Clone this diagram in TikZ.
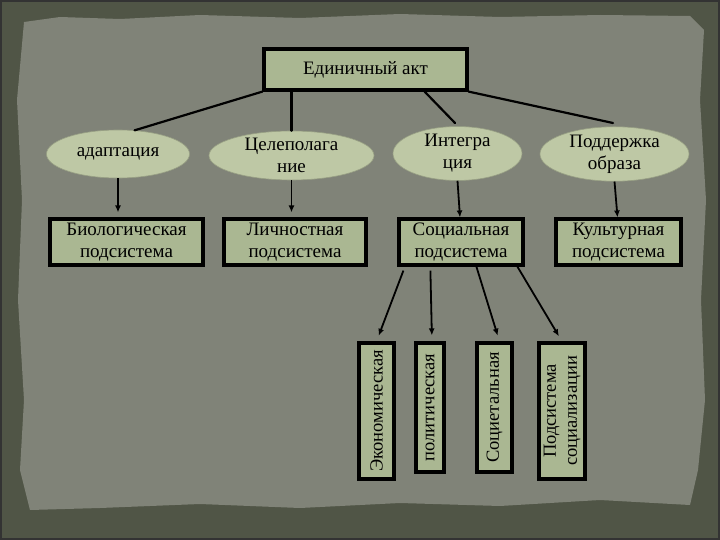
\documentclass[tikz,border=0pt]{standalone}
\usepackage{fontspec}
\setmainfont{Liberation Serif}
\usetikzlibrary{arrows.meta,calc,shapes.geometric}

\definecolor{frame}{RGB}{80,85,70}
\definecolor{paper}{RGB}{128,131,120}
\definecolor{sage}{RGB}{170,183,146}
\definecolor{oval}{RGB}{190,200,165}

\begin{document}
\begin{tikzpicture}[x=1pt, y=-1pt,
    box/.style={rectangle, draw=black, line width=3.2pt, fill=sage,
        align=center, inner sep=1pt, font=\fontsize{19}{22}\selectfont},
    oval/.style={ellipse, draw=oval!80!black, line width=0.6pt, fill=oval,
        align=center, inner sep=0pt, font=\fontsize{19}{22}\selectfont},
    vbox/.style={box, rotate=90, font=\fontsize{18.5}{21}\selectfont},
    link/.style={line width=2.2pt, line cap=round},
    arrow/.style={line width=1.8pt, -{Latex[length=7pt,width=6pt]}}
]
    % background
    \useasboundingbox (0,0) rectangle (720,540);
    \fill[frame] (0,0) rectangle (720,540);
    \fill[paper] (24,22) -- (60,17) -- (120,19) -- (200,15) -- (300,18)
        -- (400,14) -- (500,17) -- (600,15) -- (690,16) -- (704,30)
        -- (700,100) -- (706,200) -- (701,300) -- (705,400) -- (698,470)
        -- (690,505) -- (600,500) -- (500,506) -- (400,503) -- (300,508)
        -- (200,504) -- (100,508) -- (30,510) -- (20,470) -- (24,400)
        -- (18,300) -- (22,200) -- (17,100) -- cycle;
    \draw[black!80, line width=2pt] (1,1) rectangle (719,539);

    % top
    \node[box, minimum width=203pt, minimum height=41pt] (act) at (365.5,69.5) {Единичный акт};

    % functions
    \node[oval, minimum width=143pt, minimum height=48pt] (adapt) at (118,154) {адаптация};
    \node[oval, minimum width=165pt, minimum height=45pt] (goal) at (291.5,155.5) {Целеполага\\ние};
    \node[oval, minimum width=129pt, minimum height=49pt] (integ) at (457.5,153.5) {Интегра\\ция};
    \node[oval, minimum width=149pt, minimum height=47pt] (support) at (614.5,154) {Поддержка\\образа};

    % subsystems
    \node[box, minimum width=153pt, minimum height=46pt] (bio) at (126.5,242) {Биологическая\\подсистема};
    \node[box, minimum width=142pt, minimum height=46pt] (pers) at (295,242) {Личностная\\подсистема};
    \node[box, minimum width=124pt, minimum height=46pt] (social) at (461,242) {Социальная\\подсистема};
    \node[box, minimum width=125pt, minimum height=46pt] (cult) at (618.5,242) {Культурная\\подсистема};

    % parts of the social subsystem
    \node[vbox, minimum width=136pt, minimum height=35pt] (econ) at (376.5,411) {Экономическая};
    \node[vbox, minimum width=129pt, minimum height=28pt] (polit) at (430,407.5) {политическая};
    \node[vbox, minimum width=129pt, minimum height=35pt] (socie) at (494.5,407.5) {Социетальная};
    \node[vbox, minimum width=136pt, minimum height=46pt] (socz) at (562,411) {Подсистема\\социализации};

    \coordinate (e3) at (455,123);
    \coordinate (e4) at (613,123);

    \draw[link] (act.south west) -- (adapt.55);
    \draw[link] (goal.north |- act.south) -- (goal.north);
    \draw[link] ($(act.south east)+(-44,0)$) -- (e3);
    \draw[link] (act.south east) -- (e4);

    \draw[arrow, shorten >=5pt] (adapt.south) -- (adapt.south |- bio.north);
    \draw[arrow, shorten >=5pt] (goal.south) -- (goal.south |- pers.north);
    \draw[arrow] (integ.south) -- ($(social.north)+(-1,0)$);
    \draw[arrow] (support.south) -- ($(cult.north)+(-1,0)$);

    \draw[arrow, shorten >=6pt] ($(social.south west)+(6,4)$) -- (econ.east);
    \draw[arrow, shorten >=6pt] ($(social.south west)+(33,4)$) -- ($(polit.east)+(2,0)$);
    \draw[arrow, shorten >=6pt] ($(social.south west)+(79,0)$) -- ($(socie.east)+(5,0)$);
    \draw[arrow, shorten >=6pt] ($(social.south west)+(120,0)$) -- (socz.east);
\end{tikzpicture}
\end{document}
